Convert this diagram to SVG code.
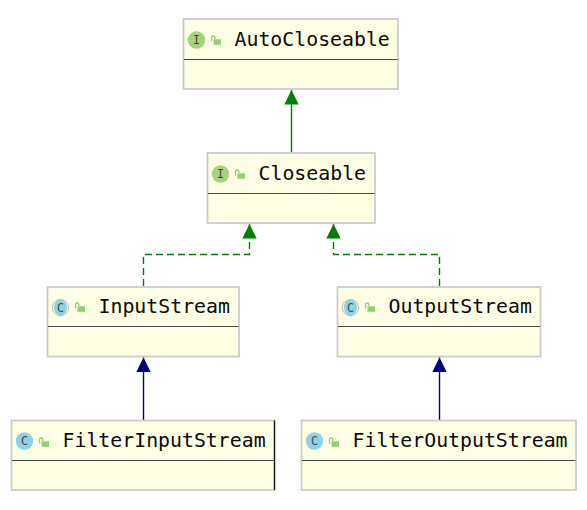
<svg xmlns="http://www.w3.org/2000/svg" width="587" height="510" viewBox="0 0 587 510">
<style>
.box{fill:#fefee4;stroke:#c9c9c9;stroke-width:1.7}
.div{stroke:#4a4a44;stroke-width:1.2}
.name{font-family:"DejaVu Sans Mono","Liberation Mono",monospace;font-size:19.85px;fill:#0a0a0a}
.letter{font-family:"DejaVu Sans Mono","Liberation Mono",monospace;font-size:11.5px;fill:#444;text-anchor:middle}
.ic{fill:#a4d27f}.cc{fill:#8cd3e6}
.lock{fill:#93cf74}
.lk{fill:none;stroke:#93cf74;stroke-width:1.3}
.g{stroke:#008000;stroke-width:1.4;fill:none}
.b{stroke:#000080;stroke-width:1.4;fill:none}
.d{stroke-dasharray:7 4}
</style>
<defs>
<g id="lockicon"><rect x="3" y="-0.700" width="7.500" height="5.500" class="lock"/><path d="M1 1.500V-2.300A1.700 1.700 0 0 1 4.400 -2.300V-1" class="lk"/></g>
<marker id="ag" markerWidth="15" markerHeight="15" refX="14.500" refY="7.500" orient="auto" markerUnits="userSpaceOnUse"><path d="M0 0.300L14.500 7.500L0 14.700Z" fill="#008000"/></marker>
<marker id="ab" markerWidth="15" markerHeight="15" refX="14.500" refY="7.500" orient="auto" markerUnits="userSpaceOnUse"><path d="M0 0.300L14.500 7.500L0 14.700Z" fill="#000080"/></marker>
</defs>
<g id="connectors">
<path class="g" d="M291.500 152V90" marker-end="url(#ag)"/>
<path class="g d" d="M143.500 286V254.500H249.500V224" marker-end="url(#ag)"/>
<path class="g d" d="M439.500 286V254.500H333.500V224" marker-end="url(#ag)"/>
<path class="b" d="M143.500 420V357.500" marker-end="url(#ab)"/>
<path class="b" d="M439.500 420V357.500" marker-end="url(#ab)"/>
</g>
<g id="AutoCloseable">
<rect class="box" x="183.500" y="19" width="214.500" height="70"/>
<line class="div" x1="184" y1="59.500" x2="397.500" y2="59.500"/>
<circle class="ic" cx="196.500" cy="40" r="8.700"/><text class="letter" x="196.500" y="44">I</text>
<use href="#lockicon" x="210.500" y="40"/>
<text class="name" x="234.500" y="45.500">AutoCloseable</text>
</g>
<g id="Closeable">
<rect class="box" x="207.500" y="153" width="167.500" height="70"/>
<line class="div" x1="208" y1="193.500" x2="374.500" y2="193.500"/>
<circle class="ic" cx="220.500" cy="174" r="8.700"/><text class="letter" x="220.500" y="178">I</text>
<use href="#lockicon" x="234.500" y="174"/>
<text class="name" x="258.500" y="179.500">Closeable</text>
</g>
<g id="InputStream">
<rect class="box" x="47.500" y="287" width="191.500" height="69.500"/>
<line class="div" x1="48" y1="326.500" x2="238.500" y2="326.500"/>
<circle cx="60.500" cy="307.500" r="8.700" fill="#c4c4c4"/><ellipse cx="60.500" cy="307.500" rx="7.500" ry="8.700" fill="#fefee4"/><ellipse class="cc" cx="60.500" cy="307.500" rx="6.500" ry="8.700"/><text class="letter" x="60.500" y="311.500">C</text>
<use href="#lockicon" x="74.500" y="307"/>
<text class="name" x="98.500" y="313">InputStream</text>
</g>
<g id="OutputStream">
<rect class="box" x="337.500" y="287" width="203" height="69.500"/>
<line class="div" x1="338" y1="326.500" x2="540" y2="326.500"/>
<circle cx="350.500" cy="307.500" r="8.700" fill="#c4c4c4"/><ellipse cx="350.500" cy="307.500" rx="7.500" ry="8.700" fill="#fefee4"/><ellipse class="cc" cx="350.500" cy="307.500" rx="6.500" ry="8.700"/><text class="letter" x="350.500" y="311.500">C</text>
<use href="#lockicon" x="364.500" y="307"/>
<text class="name" x="388.500" y="313">OutputStream</text>
</g>
<g id="FilterInputStream">
<rect class="box" x="11.500" y="420.500" width="263" height="69.500"/>
<line x1="274.500" y1="420.500" x2="274.500" y2="490" stroke="#111" stroke-width="1.300"/>
<line class="div" x1="12" y1="460.500" x2="274" y2="460.500"/>
<circle class="cc" cx="24.500" cy="441" r="8.700"/><text class="letter" x="24.500" y="445">C</text>
<use href="#lockicon" x="38.500" y="442"/>
<text class="name" x="62.500" y="447">FilterInputStream</text>
</g>
<g id="FilterOutputStream">
<rect class="box" x="301.500" y="420.500" width="274.500" height="69.500"/>
<line class="div" x1="302" y1="460.500" x2="575.500" y2="460.500"/>
<circle class="cc" cx="314.500" cy="441" r="8.700"/><text class="letter" x="314.500" y="445">C</text>
<use href="#lockicon" x="328.500" y="442"/>
<text class="name" x="352.500" y="447">FilterOutputStream</text>
</g>
</svg>
